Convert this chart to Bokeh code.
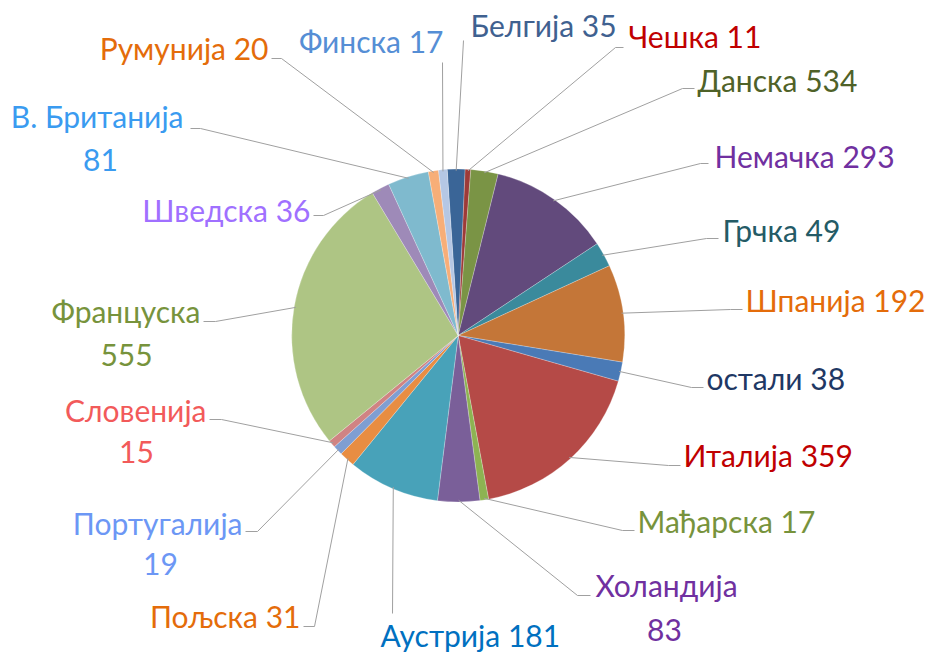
import numpy as np
from bokeh.plotting import figure
from bokeh.models import Range1d, ColumnDataSource
from bokeh.core.properties import value
from bokeh.embed import file_html
from bokeh.resources import INLINE

# ---- data (clockwise from the top) ----
names = ["Белгија", "Чешка", "Данска", "Немачка", "Грчка", "Шпанија", "остали",
         "Италија", "Мађарска", "Холандија", "Аустрија", "Пољска", "Португалија",
         "Словенија", "Француска", "Шведска", "В. Британија", "Румунија", "Финска"]
label_numbers = [35, 11, 534, 293, 49, 192, 38, 359, 17, 83, 181, 31, 19, 15, 555, 36, 81, 20, 17]
# slice sizes as drawn in the picture
slice_values = [35, 11, 54, 241, 49, 192, 38, 359, 17, 83, 181, 31, 19, 15, 555, 36, 81, 20, 17]

slice_colors = ["#3A6597", "#9E3A38", "#7A9445", "#624A7C", "#3A8A9C", "#C47638", "#4A7AB6",
                "#B54A47", "#8DB352", "#7A5F99", "#48A2B9", "#E88D42", "#7F9ED2", "#D08383",
                "#AEC584", "#9E8AB8", "#7FBACE", "#F7AE78", "#B5C7E4"]
label_colors = ["#3F6190", "#C00000", "#4F6228", "#7030A0", "#245B66", "#E46C0A", "#1F3864",
                "#C00000", "#77933C", "#7030A0", "#0070C0", "#E46C0A", "#6C97F5", "#F25A5A",
                "#77933C", "#A070FF", "#3A9BF0", "#E46C0A", "#558ED5"]
two_line = ["Холандија", "Португалија", "Словенија", "Француска", "В. Британија"]

# ---- layout (screen pixels of the 927x654 picture) ----
W, H = 927, 654
CX, CY, R = 457.7, 335.0, 166.5
START_DEG = -3.8  # clockwise from 12 o'clock where the first slice starts
DY = 13           # correction between requested and rendered baseline

label_layout = {
    "Белгија":      dict(x=470, b=37,  al="left",  a=(463, 40),  e=(463, 40)),
    "Чешка":        dict(x=628, b=48,  al="left",  a=(623, 47),  e=(615, 47)),
    "Данска":       dict(x=697, b=92,  al="left",  a=(694, 88),  e=(682, 88)),
    "Немачка":      dict(x=714, b=168, al="left",  a=(708, 163), e=(700, 163)),
    "Грчка":        dict(x=722, b=242, al="left",  a=(718, 238), e=(706, 238)),
    "Шпанија":      dict(x=745, b=312, al="left",  a=(742, 309), e=(730, 309)),
    "остали":       dict(x=706, b=390, al="left",  a=(703, 387), e=(691, 387)),
    "Италија":      dict(x=683, b=467, al="left",  a=(680, 465), e=(668, 465)),
    "Мађарска":     dict(x=637, b=533, al="left",  a=(634, 530), e=(622, 530)),
    "Холандија":    dict(x=595, b=597, al="left",  a=(590, 595), e=(577, 595), x2=664, b2=642),
    "Аустрија":     dict(x=380, b=647, al="left",  a=(392, 613), e=(392, 613)),
    "Пољска":       dict(x=300, b=628, al="right", a=(303, 626), e=(314, 626)),
    "Португалија":  dict(x=242, b=535, al="right", a=(245, 531), e=(257, 531), x2=160, b2=576),
    "Словенија":    dict(x=206, b=422, al="right", a=(209, 419), e=(221, 419), x2=136, b2=464),
    "Француска":    dict(x=200, b=323, al="right", a=(203, 321), e=(215, 321), x2=126, b2=367),
    "Шведска":      dict(x=310, b=222, al="right", a=(313, 215), e=(323, 215)),
    "В. Британија": dict(x=183, b=128, al="right", a=(190, 128), e=(200, 128), x2=100, b2=172),
    "Румунија":     dict(x=268, b=60,  al="right", a=(271, 58),  e=(281, 58)),
    "Финска":       dict(x=443, b=53,  al="right", a=(442, 62),  e=(442, 62)),
}

FONT = "Lato"
FSIZE = "30px"


def Y(sy):
    return H - sy


p = figure(width=W, height=H, output_backend="svg", toolbar_location=None,
           x_range=Range1d(0, W), y_range=Range1d(0, H), min_border=0)
p.axis.visible = False
p.grid.visible = False
p.outline_line_color = None
p.background_fill_color = "white"

vals = np.array(slice_values, dtype=float)
frac = vals / vals.sum() * 360.0
a1 = START_DEG + np.cumsum(frac)
a0 = a1 - frac
mid = (a0 + a1) / 2

src = ColumnDataSource(dict(
    start=np.radians(90 - a0), end=np.radians(90 - a1),
    color=slice_colors, name=names))
p.wedge(x=CX, y=Y(CY), radius=R, start_angle="start", end_angle="end",
        direction="clock", fill_color="color", line_color="white",
        line_width=0.4, line_alpha=0.6, source=src)

xs, ys = [], []
for n, m in zip(names, mid):
    L = label_layout[n]
    px = CX + R * 0.99 * np.sin(np.radians(m))
    py = CY - R * 0.99 * np.cos(np.radians(m))
    xs.append([px, L["e"][0], L["a"][0]])
    ys.append([Y(py), Y(L["e"][1]), Y(L["a"][1])])
p.multi_line(xs, ys, line_color="#A0A0A0", line_width=1)

tx, ty, tt, tc, ta = [], [], [], [], []
for n, num, c in zip(names, label_numbers, label_colors):
    L = label_layout[n]
    if n in two_line:
        tx += [L["x"], L["x2"]]
        ty += [Y(L["b"] - DY), Y(L["b2"] - DY)]
        tt += [n, str(num)]
        tc += [c, c]
        ta += [L["al"], "center"]
    else:
        tx.append(L["x"])
        ty.append(Y(L["b"] - DY))
        tt.append(f"{n} {num}")
        tc.append(c)
        ta.append(L["al"])

p.text(x=tx, y=ty, text=tt, text_color=tc, text_align=ta,
       text_baseline="alphabetic", text_font=value(FONT), text_font_size=FSIZE)

open("out.html", "w").write(file_html(p, INLINE))
